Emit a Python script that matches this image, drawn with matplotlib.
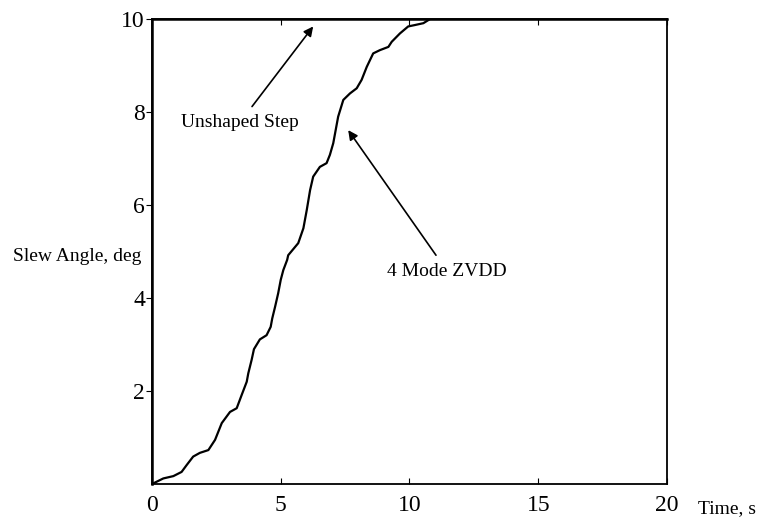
import numpy as np
import matplotlib
matplotlib.use("Agg")
import matplotlib.pyplot as plt

# data
# 4 mode ZVDD shaped response
t_zvdd = [0.0, 0.44, 0.83, 1.15, 1.35, 1.60, 1.86, 2.19, 2.45, 2.71, 3.03, 3.29,
          3.48, 3.68, 3.74, 3.87, 3.96, 4.19, 4.45, 4.61, 4.67, 4.78, 4.90, 5.00,
          5.10, 5.25, 5.29, 5.68, 5.88, 6.01, 6.14, 6.26, 6.52, 6.78, 6.91, 7.04,
          7.23, 7.43, 7.69, 7.95, 8.14, 8.34, 8.59, 8.85, 9.18, 9.31, 9.63, 9.95,
          10.21, 10.54, 10.8, 20.0]
y_zvdd = [0.0, 0.12, 0.17, 0.26, 0.41, 0.59, 0.67, 0.73, 0.95, 1.31, 1.55, 1.63,
          1.91, 2.20, 2.38, 2.67, 2.90, 3.11, 3.20, 3.38, 3.56, 3.81, 4.10, 4.39,
          4.60, 4.82, 4.92, 5.18, 5.50, 5.89, 6.32, 6.61, 6.82, 6.90, 7.08, 7.33,
          7.90, 8.26, 8.40, 8.51, 8.69, 8.97, 9.26, 9.33, 9.40, 9.51, 9.69, 9.84,
          9.87, 9.91, 10.0, 10.0]

# unshaped step
t_step = [0.0, 0.0, 20.0]
y_step = [0.0, 10.0, 10.0]

xticks = [0, 5, 10, 15, 20]
yticks = [2, 4, 6, 8, 10]

plt.rcParams['font.family'] = ['Liberation Serif', 'DejaVu Serif']

fig = plt.figure(figsize=(7.61, 5.19), dpi=100)
ax = fig.add_axes([0.1997, 0.0674, 0.6768, 0.896])

ax.plot(t_step, y_step, color='black', lw=1.8, clip_on=False)
ax.plot(t_zvdd, y_zvdd, color='black', lw=1.6)

ax.set_xlim(0, 20)
ax.set_ylim(0, 10)
ax.set_xticks(xticks)
ax.set_yticks(yticks)
ax.tick_params(axis='x', direction='in', length=4, pad=8, labelsize=17,
               top=True, width=0.8)
ax.tick_params(axis='y', direction='out', length=4, pad=1, labelsize=17,
               width=0.8)
for s in ax.spines.values():
    s.set_linewidth(1.3)

ax.text(-0.02, 0.49, 'Slew Angle, deg', transform=ax.transAxes,
        ha='right', va='center', fontsize=14)
ax.text(1.06, -0.052, 'Time, s', transform=ax.transAxes,
        ha='left', va='center', fontsize=14)

ax.annotate('Unshaped Step', xy=(6.26, 9.84), xytext=(3.42, 7.78),
            ha='center', va='center', fontsize=14,
            arrowprops=dict(arrowstyle='-|>', color='black', lw=1.2,
                            shrinkA=4, shrinkB=0, mutation_scale=14))
ax.annotate('4 Mode ZVDD', xy=(7.62, 7.61), xytext=(11.46, 4.58),
            ha='center', va='center', fontsize=14,
            arrowprops=dict(arrowstyle='-|>', color='black', lw=1.2,
                            shrinkA=4, shrinkB=0, mutation_scale=14))

fig.savefig('out.png', dpi=100)
